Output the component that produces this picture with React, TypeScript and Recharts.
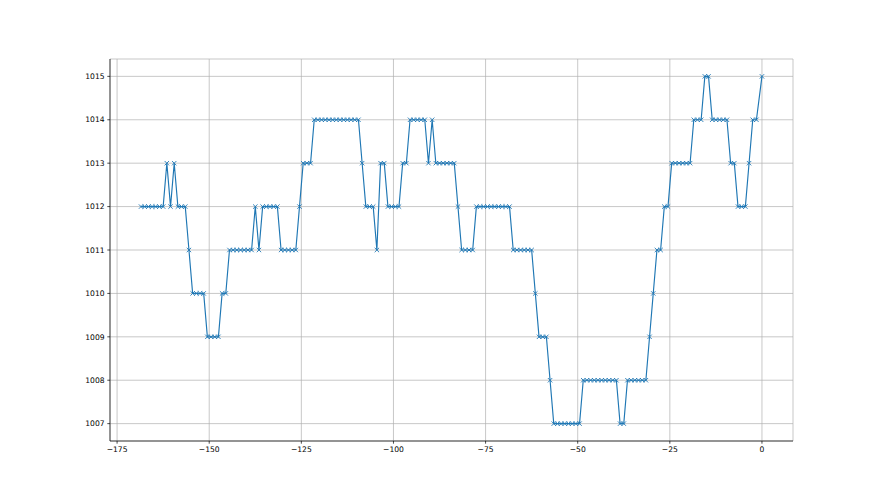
import { LineChart, Line, XAxis, YAxis, CartesianGrid } from "recharts";

// hours before now, one reading per hour plus the current one
const hours = Array.from({ length: 168 }, (_, i) => -168.5 + i).concat(0);

// pressure in hPa
const pressure = [
  1012, 1012, 1012, 1012, 1012, 1012, 1012, 1013, 1012, 1013, 1012, 1012, 1012,
  1011, 1010, 1010, 1010, 1010, 1009, 1009, 1009, 1009, 1010, 1010,
  1011, 1011, 1011, 1011, 1011, 1011, 1011, 1012, 1011,
  1012, 1012, 1012, 1012, 1012, 1011, 1011, 1011, 1011, 1011, 1012,
  1013, 1013, 1013,
  1014, 1014, 1014, 1014, 1014, 1014, 1014, 1014, 1014, 1014, 1014, 1014, 1014,
  1013, 1012, 1012, 1012, 1011, 1013, 1013, 1012, 1012, 1012, 1012,
  1013, 1013, 1014, 1014, 1014, 1014, 1014, 1013, 1014,
  1013, 1013, 1013, 1013, 1013, 1013, 1012, 1011, 1011, 1011, 1011,
  1012, 1012, 1012, 1012, 1012, 1012, 1012, 1012, 1012, 1012,
  1011, 1011, 1011, 1011, 1011, 1011, 1010, 1009, 1009, 1009, 1008,
  1007, 1007, 1007, 1007, 1007, 1007, 1007, 1007,
  1008, 1008, 1008, 1008, 1008, 1008, 1008, 1008, 1008, 1008,
  1007, 1007, 1008, 1008, 1008, 1008, 1008, 1008,
  1009, 1010, 1011, 1011, 1012, 1012,
  1013, 1013, 1013, 1013, 1013, 1013, 1014, 1014, 1014, 1015, 1015,
  1014, 1014, 1014, 1014, 1014, 1013, 1013, 1012, 1012, 1012,
  1013, 1014, 1014, 1015,
];

const xTicks = [-175, -150, -125, -100, -75, -50, -25, 0];
const yTicks = [1007, 1008, 1009, 1010, 1011, 1012, 1013, 1014, 1015];

const data = hours.map((hour, i) => ({ hour, hPa: pressure[i] }));

const BLUE = "#1f77b4";
const tickStyle = { fill: "#000", fontSize: 7.6, fontFamily: "DejaVu Sans" };
const minus = (v: number) => String(v).replace("-", "\u2212");
const spine = { stroke: "#000", strokeWidth: 0.7 };

const XMarker = (props: any) => {
  const { cx, cy, index } = props;
  if (cx == null || cy == null) return <g key={index} />;
  const s = 2.2;
  return (
    <g key={index} stroke={BLUE} strokeWidth={0.9}>
      <line x1={cx - s} y1={cy - s} x2={cx + s} y2={cy + s} />
      <line x1={cx - s} y1={cy + s} x2={cx + s} y2={cy - s} />
    </g>
  );
};

export default function App() {
  return (
    <div style={{ position: "absolute", left: 0, top: 0, background: "#fff" }}>
      <LineChart
        width={880}
        height={495}
        data={data}
        margin={{ top: 59, right: 87, bottom: 24, left: 50 }}
      >
        <CartesianGrid stroke="#b0b0b0" strokeWidth={0.7} />
        <XAxis
          type="number"
          dataKey="hour"
          domain={[-176.925, 8.425]}
          ticks={xTicks}
          allowDataOverflow
          height={30}
          tick={tickStyle}
          tickSize={2.7}
          tickMargin={3}
          tickFormatter={minus}
          axisLine={spine}
          tickLine={spine}
        />
        <XAxis
          xAxisId="top"
          orientation="top"
          type="number"
          domain={[-176.925, 8.425]}
          height={0}
          tick={false}
          tickLine={false}
          axisLine={spine}
        />
        <YAxis
          type="number"
          domain={[1006.6, 1015.4]}
          ticks={yTicks}
          allowDataOverflow
          width={60}
          tick={tickStyle}
          tickSize={2.7}
          tickMargin={2.7}
          axisLine={spine}
          tickLine={spine}
        />
        <YAxis
          yAxisId="right"
          orientation="right"
          type="number"
          domain={[1006.6, 1015.4]}
          width={0}
          tick={false}
          tickLine={false}
          axisLine={spine}
        />
        <Line
          type="linear"
          dataKey="hPa"
          stroke={BLUE}
          strokeWidth={1.15}
          dot={XMarker}
          activeDot={false}
          isAnimationActive={false}
        />
      </LineChart>
    </div>
  );
}
